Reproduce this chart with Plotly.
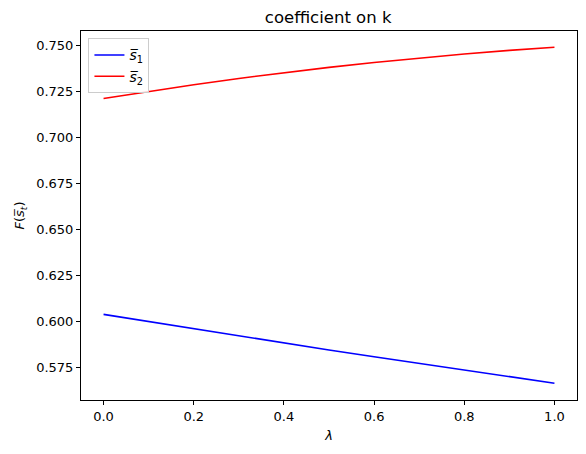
import plotly.graph_objects as go

# lambda values and the two coefficient series
lam = [0.0, 0.1, 0.2, 0.3, 0.4, 0.5, 0.6, 0.7, 0.8, 0.9, 1.0]
s1_vals = [0.6040, 0.6001, 0.5962, 0.5924, 0.5885, 0.5847, 0.5810, 0.5774, 0.5738, 0.5702, 0.5667]
s2_vals = [0.7210, 0.7249, 0.7285, 0.7319, 0.7350, 0.7379, 0.7405, 0.7430, 0.7451, 0.7471, 0.7488]

x_ticks = [0.0, 0.2, 0.4, 0.6, 0.8, 1.0]
y_ticks = [0.575, 0.600, 0.625, 0.650, 0.675, 0.700, 0.725, 0.750]

fig = go.Figure()
fig.add_trace(go.Scatter(x=lam, y=s1_vals, mode='lines', name='<i>s\u0305</i><sub>1</sub>',
                         line=dict(color='blue', width=1.6)))
fig.add_trace(go.Scatter(x=lam, y=s2_vals, mode='lines', name='<i>s\u0305</i><sub>2</sub>',
                         line=dict(color='red', width=1.6)))

axis_style = dict(showline=True, mirror=True, linecolor='black', linewidth=1,
                  ticks='outside', ticklen=4, tickcolor='black', showgrid=False,
                  zeroline=False, automargin=False, tickfont=dict(size=13, color='black'))

fig.update_layout(
    width=586, height=454,
    margin=dict(l=81, r=9, t=31, b=54),
    paper_bgcolor='white', plot_bgcolor='white',
    font=dict(family='DejaVu Sans', color='black'),
    title=dict(text='coefficient on k', x=0.56, xanchor='center', y=0.962, yanchor='middle',
               font=dict(size=16.5)),
    xaxis=dict(title=dict(text='<i>λ</i>', font=dict(size=13), standoff=8),
               range=[-0.05, 1.05], tickmode='array', tickvals=x_ticks,
               ticktext=[f'{t:.1f}' for t in x_ticks], **axis_style),
    yaxis=dict(title=dict(text='<i>F</i>(<i>s\u0305</i><sub><i>t</i></sub>)', font=dict(size=13), standoff=8),
               range=[0.5576, 0.7576], tickmode='array', tickvals=y_ticks,
               ticktext=[f'{t:.3f}' for t in y_ticks], **axis_style),
    legend=dict(x=0.015, y=0.98, xanchor='left', yanchor='top',
                bgcolor='rgba(255,255,255,0.8)', bordercolor='#cccccc', borderwidth=1,
                font=dict(size=14)),
    showlegend=True,
)

# page body has a default 8px margin; drop it so the figure sits at the window corner
fig.write_html("out.html", config={'displayModeBar': False},
               post_script="document.body.style.margin='0';")
